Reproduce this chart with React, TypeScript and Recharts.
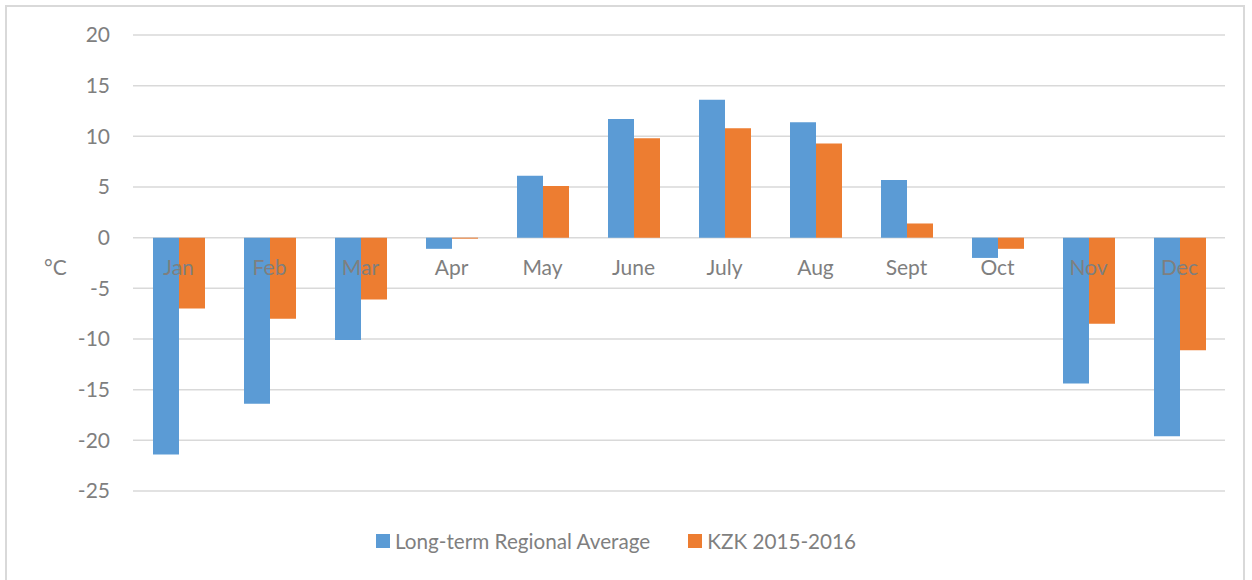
import { BarChart, Bar, XAxis, YAxis, CartesianGrid } from 'recharts';

const MONTHS = ['Jan', 'Feb', 'Mar', 'Apr', 'May', 'June', 'July', 'Aug', 'Sept', 'Oct', 'Nov', 'Dec'];
const REGIONAL_AVG = [-21.4, -16.4, -10.1, -1.1, 6.1, 11.7, 13.6, 11.4, 5.7, -2.0, -14.4, -19.6];
const KZK_2015_2016 = [-7.0, -8.0, -6.1, -0.1, 5.1, 9.8, 10.8, 9.3, 1.4, -1.1, -8.5, -11.1];
const Y_TICKS = [-25, -20, -15, -10, -5, 0, 5, 10, 15, 20];

const SERIES = [
  { key: 'avg', name: 'Long-term Regional Average', color: '#5b9bd5' },
  { key: 'kzk', name: 'KZK 2015-2016', color: '#ed7d31' },
];

const data = MONTHS.map((m, i) => ({ month: m, avg: REGIONAL_AVG[i], kzk: KZK_2015_2016[i] }));

const W = 1252;
const H = 580;
const TOP = 35;
const BOTTOM = 89;
const PLOT_H = H - TOP - BOTTOM;
// month labels sit just under the zero line, like Excel does it
const ZERO_Y = TOP + (PLOT_H * 20) / 45;
const FONT = 'Lato, "Open Sans", sans-serif';
const TEXT = '#7f7f7f';

function MonthTick(props: any) {
  const { x, payload } = props;
  return (
    <text x={x} y={ZERO_Y + 37} textAnchor="middle" fill={TEXT} fontSize={21} fontFamily={FONT}>
      {payload.value}
    </text>
  );
}

function LegendBox() {
  return (
    <div
      style={{
        position: 'absolute',
        left: 0,
        top: 529,
        width: 1232,
        display: 'flex',
        justifyContent: 'center',
        gap: 38,
        fontFamily: FONT,
        fontSize: 20.7,
        color: TEXT,
      }}
    >
      {SERIES.map((s) => (
        <div key={s.key} style={{ display: 'flex', alignItems: 'center', gap: 5 }}>
          <span style={{ width: 14, height: 14, background: s.color, display: 'inline-block' }} />
          <span>{s.name}</span>
        </div>
      ))}
    </div>
  );
}

export default function App() {
  return (
    <div style={{ position: 'absolute', left: 0, top: 0, width: W, height: H, background: '#fff' }}>
      <div style={{ position: 'absolute', left: 5, top: 5, width: 1240, height: 580, border: '2px solid #d9d9d9', boxSizing: 'border-box' }} />
      <BarChart width={W} height={H} data={data} margin={{ top: TOP, right: 27, left: 0, bottom: BOTTOM - 1 }} barGap={0} barSize={26}>
        <CartesianGrid vertical={false} stroke="#d9d9d9" strokeWidth={1.5} />
        <YAxis
          domain={[-25, 20]}
          ticks={Y_TICKS}
          width={133}
          axisLine={false}
          tickLine={false}
          tickSize={0}
          tickMargin={23}
          tick={{ fill: TEXT, fontSize: 21, fontFamily: FONT }}
          label={{ value: '°C', position: 'insideLeft', offset: 44, dy: 5, fill: TEXT, fontSize: 21, fontFamily: FONT }}
        />
        {SERIES.map((s) => (
          <Bar key={s.key} dataKey={s.key} name={s.name} fill={s.color} isAnimationActive={false} />
        ))}
        <XAxis dataKey="month" axisLine={false} tickLine={false} height={1} tick={MonthTick} interval={0} />
      </BarChart>
      <LegendBox />
    </div>
  );
}
